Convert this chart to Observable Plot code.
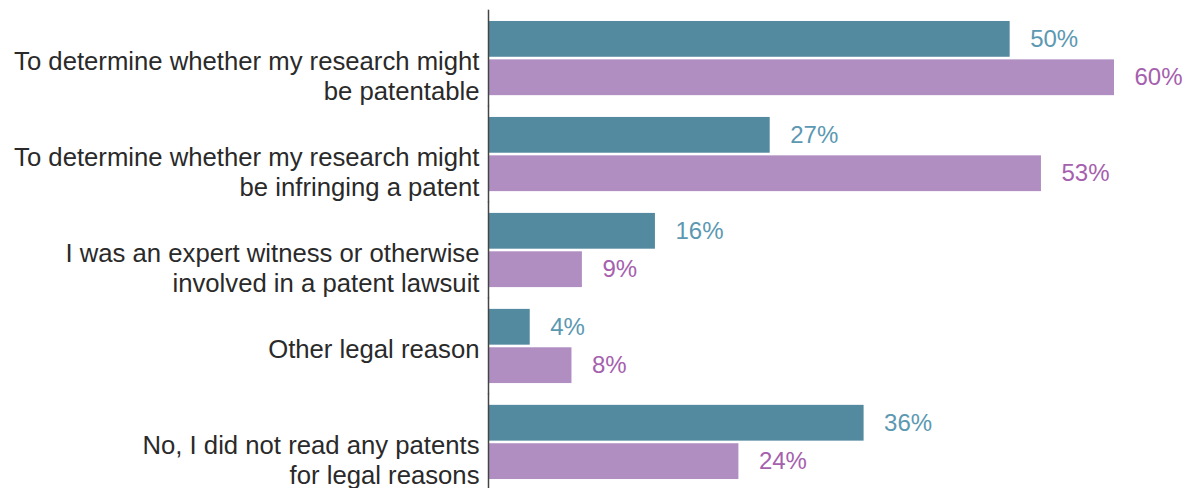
<!DOCTYPE html>
<html>
<head>
<meta charset="utf-8">
<script src="https://cdn.jsdelivr.net/npm/d3@7"></script>
<script src="https://cdn.jsdelivr.net/npm/@observablehq/plot@0.6"></script>
<style>
  html, body { margin: 0; padding: 0; background: #fff; }
  #chart svg { display: block; }
</style>
</head>
<body>
<div id="chart"></div>
<script>
const categories = [
  "To determine whether my research might\nbe patentable",
  "To determine whether my research might\nbe infringing a patent",
  "I was an expert witness or otherwise\ninvolved in a patent lawsuit",
  "Other legal reason",
  "No, I did not read any patents\nfor legal reasons"
];
const seriesNames = ["Series 1", "Series 2"];
const series1Values = [50, 27, 16, 4, 36];
const series2Values = [60, 53, 9, 8, 24];
const barColors = ["#548aa0", "#b08ec2"];
const labelColors = ["#5c98b2", "#a560ae"];

const data = [];
categories.forEach((c, i) => {
  data.push({category: c, series: seriesNames[0], value: series1Values[i]});
  data.push({category: c, series: seriesNames[1], value: series2Values[i]});
});

const chart = Plot.plot({
  width: 1196,
  height: 488,
  marginLeft: 488,
  marginRight: 82,
  marginTop: 12,
  marginBottom: 0,
  style: {fontFamily: "'Liberation Sans', Arial, Helvetica, sans-serif", background: "#fff"},
  x: {domain: [0, 60], axis: null},
  y: {domain: seriesNames, axis: null, padding: 0, round: false},
  fy: {domain: categories, paddingInner: 0.2, paddingOuter: 0.08, label: null, round: false},
  color: {domain: seriesNames, range: barColors},
  marks: [
    Plot.barX(data, {fy: "category", y: "series", x: "value", fill: "series", insetTop: 1.3, insetBottom: 1.3}),
    Plot.ruleX([0], {stroke: "#444", strokeWidth: 1.5, insetTop: -10, insetBottom: -10}),
    Plot.text(data.filter(d => d.series === seriesNames[0]), {
      fy: "category", y: "series", x: "value", text: d => d.value + "%",
      textAnchor: "start", dx: 20, fontSize: 24, fill: labelColors[0]
    }),
    Plot.text(data.filter(d => d.series === seriesNames[1]), {
      fy: "category", y: "series", x: "value", text: d => d.value + "%",
      textAnchor: "start", dx: 20, fontSize: 24, fill: labelColors[1]
    }),
    Plot.axisFy({
      anchor: "left", tickSize: 0, tickPadding: 9, label: null,
      fontSize: 25.7, lineHeight: 1.17, lineAnchor: "top", dy: -9.5,
      fill: "#2a2a2a", textAnchor: "end"
    })
  ]
});
document.getElementById("chart").appendChild(chart);
</script>
</body>
</html>
